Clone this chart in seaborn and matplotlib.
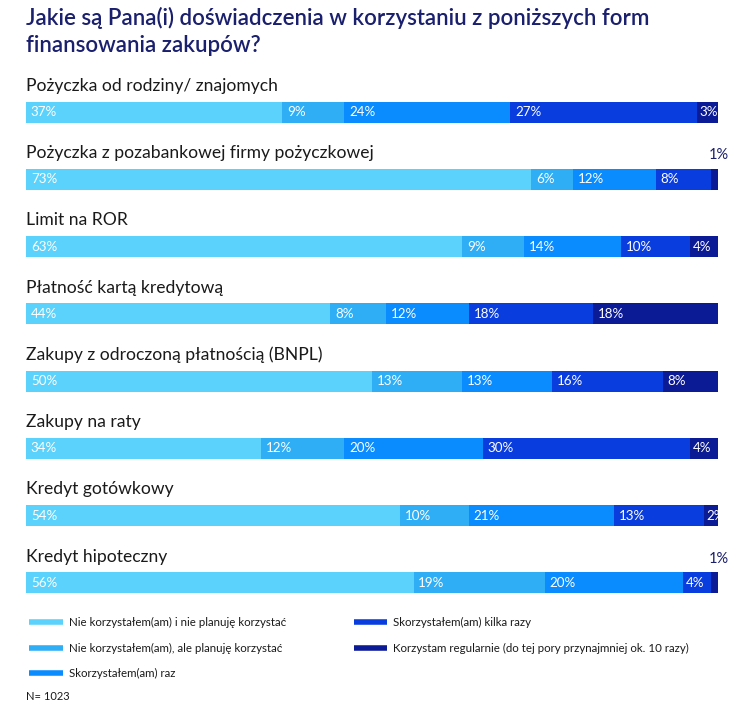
import numpy as np
import pandas as pd
import matplotlib
matplotlib.use("Agg")
import matplotlib.pyplot as plt
from matplotlib.lines import Line2D
import seaborn as sns

categories = [
    "Pożyczka od rodziny/ znajomych",
    "Pożyczka z pozabankowej firmy pożyczkowej",
    "Limit na ROR",
    "Płatność kartą kredytową",
    "Zakupy z odroczoną płatnością (BNPL)",
    "Zakupy na raty",
    "Kredyt gotówkowy",
    "Kredyt hipoteczny",
]
series_names = [
    "Nie korzystałem(am) i nie planuję korzystać",
    "Nie korzystałem(am), ale planuję korzystać",
    "Skorzystałem(am) raz",
    "Skorzystałem(am) kilka razy",
    "Korzystam regularnie (do tej pory przynajmniej ok. 10 razy)",
]
nie_nie = [37, 73, 63, 44, 50, 34, 54, 56]
nie_plan = [9, 6, 9, 8, 13, 12, 10, 19]
raz = [24, 12, 14, 12, 13, 20, 21, 20]
kilka = [27, 8, 10, 18, 16, 30, 13, 4]
regularnie = [3, 1, 4, 18, 8, 4, 2, 1]

colors = ["#5BD2FC", "#2FAEF6", "#0A8CFF", "#0A3DDE", "#0B1A95"]
navy = "#1A1F6E"

sns.set_theme(style="white")
plt.rcParams["font.family"] = ["Lato", "DejaVu Sans"]

values = np.array([nie_nie, nie_plan, raz, kilka, regularnie], dtype=float)
cum = np.cumsum(values, axis=0)

fig = plt.figure(figsize=(7.38, 7.12), dpi=100)
W, H = 738, 712
top_px, bot_px = 112 - 33.5, 583 + 33.5
ax = fig.add_axes([26 / W, 1 - bot_px / H, (718 - 26) / W, (bot_px - top_px) / H])

for k in range(4, -1, -1):
    df = pd.DataFrame({"cat": categories, "val": cum[k]})
    sns.barplot(data=df, x="val", y="cat", orient="h", color=colors[k],
                width=0.315, linewidth=0, saturation=1, ax=ax)

ax.set_xlim(0, 100)
ax.set_ylim(7.5, -0.5)
ax.axis("off")

for i, cat in enumerate(categories):
    ax.text(0, i - 0.39, cat, ha="left", va="center", fontsize=12.6,
            color="#1a1a1a", clip_on=False)
    left = 0
    for k in range(5):
        v = values[k, i]
        if v <= 1:
            ax.text(left + v / 2 + 0.6, i - 0.36, f"{int(v)}%", ha="center", va="center",
                    fontsize=10.5, color=navy, clip_on=False)
        else:
            pad = 0.7 if v >= 5 else 0.3
            ax.text(left + pad, i, f"{int(v)}%", ha="left", va="center",
                    fontsize=9.6, color="white", clip_on=True)
        left += v

fig.text(26 / W, 1 - 18 / H, "Jakie są Pana(i) doświadczenia w korzystaniu z poniższych form",
         ha="left", va="center", fontsize=16, color=navy, fontweight="semibold")
fig.text(26 / W, 1 - 45 / H, "finansowania zakupów?",
         ha="left", va="center", fontsize=16, color=navy, fontweight="semibold")

handles = [Line2D([0], [0], color=c, lw=4, solid_capstyle="butt") for c in colors]
fig.legend(handles, series_names, loc="upper left", bbox_to_anchor=(19 / W, 1 - 607 / H),
           ncol=2, frameon=False, fontsize=8.3, handlelength=2.9, handletextpad=0.5,
           labelspacing=1.25, columnspacing=5.9, labelcolor="#1a1a1a")

fig.text(26 / W, 1 - 697 / H, "N= 1023", ha="left", va="center", fontsize=8, color="#1a1a1a")

fig.savefig("out.png", dpi=100, facecolor="white")
